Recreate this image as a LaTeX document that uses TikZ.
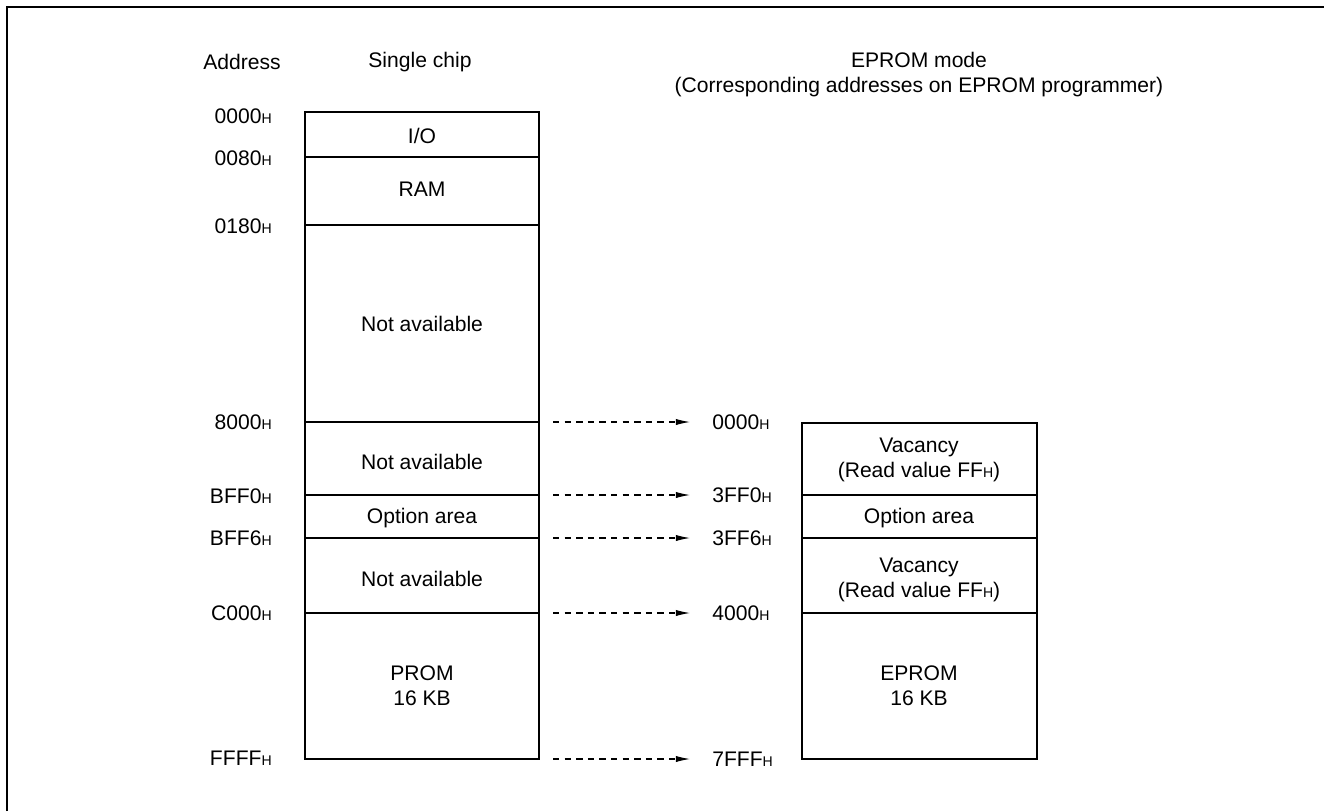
\documentclass[tikz,border=0pt]{standalone}
\usepackage{fontspec}
\setmainfont{Liberation Sans}
\usetikzlibrary{arrows.meta}
\newcommand{\hexa}[1]{#1{\fontsize{8}{8}\selectfont H}}

\begin{document}
\begin{tikzpicture}[
    x=0.02cm, y=-0.02cm,
    txt/.style={font=\fontsize{12}{14.2}\selectfont, align=center, inner sep=0pt},
    addr/.style={txt, anchor=east},
    eaddr/.style={txt, anchor=west},
    outerbox/.style={draw, line width=1.6pt},
    divider/.style={draw, line width=0.7pt},
    maparrow/.style={-{Latex[length=8pt,width=3.5pt]}, dash pattern=on 3.6pt off 3pt, line width=0.6pt, shorten <=8pt, shorten >=12.5pt}
  ]

  \useasboundingbox (0,0) rectangle (1324,811);
  \draw[line width=0.7pt] (7,811) -- (7,7) -- (1324,7);

  % Column headings
  \node[txt] (hAddr) at (242,62) {Address};
  \node[txt] (hSingle) at (420,62) {Single chip};
  \node[txt] (hEprom) at (919,75) {EPROM mode\\(Corresponding addresses on EPROM programmer)};

  % Single chip map
  \draw[divider] (305,157) -- (539,157);
  \draw[divider] (305,225) -- (539,225);
  \draw[divider] (305,422) -- (539,422);
  \draw[divider] (305,495) -- (539,495);
  \draw[divider] (305,538) -- (539,538);
  \draw[divider] (305,613) -- (539,613);
  \draw[outerbox] (305,112) rectangle (539,759);

  \node[txt] (scIO) at (422,136) {I/O};
  \node[txt] (scRAM) at (422,189) {RAM};
  \node[txt] (scNA1) at (422,324) {Not available};
  \node[txt] (scNA2) at (422,462) {Not available};
  \node[txt] (scOpt) at (422,518) {Option area};
  \node[txt] (scNA3) at (422,579) {Not available};
  \node[txt] (scPROM) at (422,686) {PROM\\16 KB};

  \node[addr] (a0000) at (272,116) {\hexa{0000}};
  \node[addr] (a0080) at (272,158) {\hexa{0080}};
  \node[addr] (a0180) at (272,226) {\hexa{0180}};
  \node[addr] (a8000) at (272,422) {\hexa{8000}};
  \node[addr] (aBFF0) at (272,496) {\hexa{BFF0}};
  \node[addr] (aBFF6) at (272,538) {\hexa{BFF6}};
  \node[addr] (aC000) at (272,613) {\hexa{C000}};
  \node[addr] (aFFFF) at (272,758) {\hexa{FFFF}};

  % EPROM mode map
  \draw[divider] (802,495) -- (1037,495);
  \draw[divider] (802,538) -- (1037,538);
  \draw[divider] (802,613) -- (1037,613);
  \draw[outerbox] (802,423) rectangle (1037,759);

  \node[txt] (epVac1) at (919,460) {Vacancy\\(Read value \hexa{FF})};
  \node[txt] (epOpt) at (919,518) {Option area};
  \node[txt] (epVac2) at (919,580) {Vacancy\\(Read value \hexa{FF})};
  \node[txt] (epEPROM) at (919,686) {EPROM\\16 KB};

  \node[eaddr] (e0000) at (712,422) {\hexa{0000}};
  \node[eaddr] (e3FF0) at (712,495) {\hexa{3FF0}};
  \node[eaddr] (e3FF6) at (712,538) {\hexa{3FF6}};
  \node[eaddr] (e4000) at (712,613) {\hexa{4000}};
  \node[eaddr] (e7FFF) at (712,759) {\hexa{7FFF}};

  % Address correspondence
  \coordinate (sc8000) at (539,422);
  \coordinate (scBFF0) at (539,495);
  \coordinate (scBFF6) at (539,538);
  \coordinate (scC000) at (539,613);
  \coordinate (scFFFF) at (539,759);

  \draw[maparrow] (sc8000) -- (e0000);
  \draw[maparrow] (scBFF0) -- (e3FF0);
  \draw[maparrow] (scBFF6) -- (e3FF6);
  \draw[maparrow] (scC000) -- (e4000);
  \draw[maparrow] (scFFFF) -- (e7FFF);

\end{tikzpicture}
\end{document}
